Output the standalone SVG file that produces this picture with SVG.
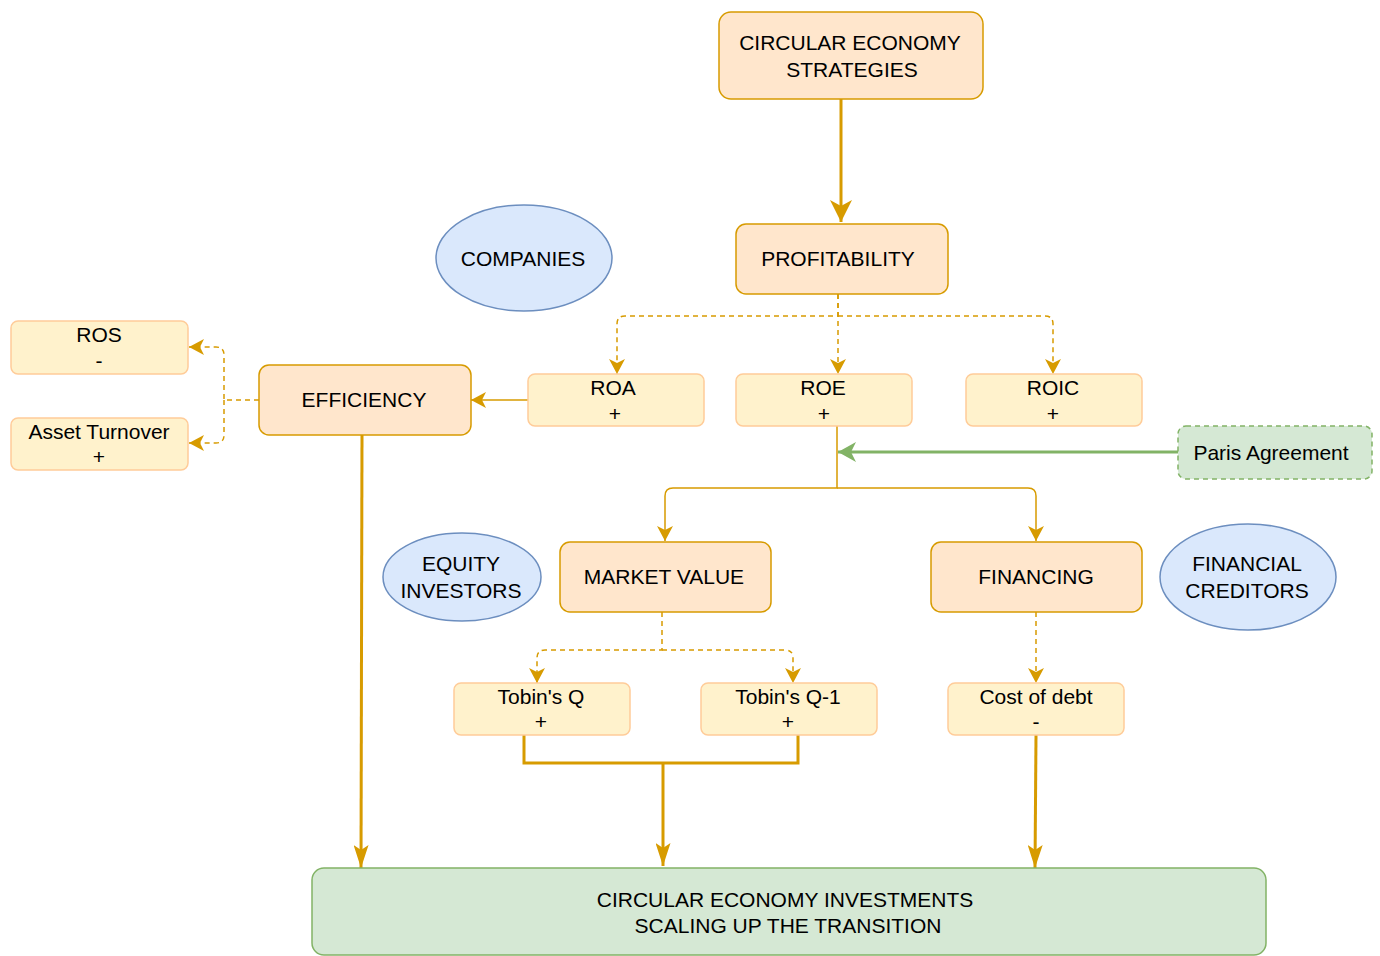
<svg xmlns="http://www.w3.org/2000/svg" width="1380" height="956" viewBox="0 0 1380 956">
<style>
text{font-family:"Liberation Sans",Arial,sans-serif;font-size:21px;fill:#000;text-anchor:middle;dominant-baseline:central}
.main{fill:#ffe6cc;stroke:#d79b00;stroke-width:1.5}
.sub{fill:#fff2cc;stroke:#ffcc99;stroke-width:1.5}
.ell{fill:#dae8fc;stroke:#6c8ebf;stroke-width:1.5}
.grn{fill:#d5e8d4;stroke:#82b366;stroke-width:1.5}
.dash{fill:none;stroke:#d79b00;stroke-width:1.5;stroke-dasharray:5 4}
.thin{fill:none;stroke:#d79b00;stroke-width:1.5}
.thick{fill:none;stroke:#d79b00;stroke-width:3}
</style>
<defs>
<marker id="aS" markerUnits="userSpaceOnUse" viewBox="0 0 15 16" markerWidth="15" markerHeight="16" refX="15" refY="8" orient="auto"><path d="M0,0 L15,8 L0,16 L4,8 Z" fill="#d79b00"/></marker>
<marker id="aL" markerUnits="userSpaceOnUse" viewBox="0 0 22 22" markerWidth="22" markerHeight="22" refX="22" refY="11" orient="auto"><path d="M0,0 L22,11 L0,22 L6,11 Z" fill="#d79b00"/></marker>
<marker id="aB" markerUnits="userSpaceOnUse" viewBox="0 0 23 15" markerWidth="23" markerHeight="15" refX="23" refY="7.5" orient="auto"><path d="M0,0 L23,7.5 L0,15 L5,7.5 Z" fill="#d79b00"/></marker>
<marker id="aG" markerUnits="userSpaceOnUse" viewBox="0 0 18 20" markerWidth="18" markerHeight="20" refX="18" refY="10" orient="auto"><path d="M0,0 L18,10 L0,20 L5,10 Z" fill="#82b366"/></marker>
</defs>

<g id="connectors">
<path class="thick" d="M841,99 V222" marker-end="url(#aL)"/>
<path class="dash" d="M838,294 V316 H625 Q617,316 617,324 V374" marker-end="url(#aS)"/>
<path class="dash" d="M838,294 V374" marker-end="url(#aS)"/>
<path class="dash" d="M838,316 H1045 Q1053,316 1053,324 V374" marker-end="url(#aS)"/>
<path class="thin" d="M528,400 H471" marker-end="url(#aS)"/>
<path class="dash" d="M259,400 H224 V355 Q224,347 216,347 H189" marker-end="url(#aS)"/>
<path class="dash" d="M224,400 V435 Q224,443 216,443 H189" marker-end="url(#aS)"/>
<path class="thick" d="M362,435 L361,868" marker-end="url(#aB)"/>
<path class="thin" d="M837,426 V488 H673 Q665,488 665,496 V541" marker-end="url(#aS)"/>
<path class="thin" d="M837,488 H1028 Q1036,488 1036,496 V541" marker-end="url(#aS)"/>
<path d="M1178,452 H838" fill="none" stroke="#82b366" stroke-width="3" marker-end="url(#aG)"/>
<path class="dash" d="M662,612 V650 H545 Q537,650 537,658 V683" marker-end="url(#aS)"/>
<path class="dash" d="M662,650 H785 Q793,650 793,658 V683" marker-end="url(#aS)"/>
<path class="dash" d="M1036,612 V683" marker-end="url(#aS)"/>
<path class="thick" d="M524,735 V763 H798 V735"/>
<path class="thick" d="M663,763 V866" marker-end="url(#aB)"/>
<path class="thick" d="M1036,735 L1035,868" marker-end="url(#aB)"/>
</g>

<g id="ce-strategies"><rect class="main" x="719" y="12" width="264" height="87" rx="12"/><text x="850" y="42">CIRCULAR ECONOMY</text><text x="852" y="69">STRATEGIES</text></g>
<g id="profitability"><rect class="main" x="736" y="224" width="212" height="70" rx="10"/><text x="838" y="258">PROFITABILITY</text></g>
<g id="companies"><ellipse class="ell" cx="524" cy="258" rx="88" ry="53"/><text x="523" y="258">COMPANIES</text></g>
<g id="roa"><rect class="sub" x="528" y="374" width="176" height="52" rx="7"/><text x="613" y="387">ROA</text><text x="615" y="413">+</text></g>
<g id="roe"><rect class="sub" x="736" y="374" width="176" height="52" rx="7"/><text x="823" y="387">ROE</text><text x="824" y="413">+</text></g>
<g id="roic"><rect class="sub" x="966" y="374" width="176" height="52" rx="7"/><text x="1053" y="387">ROIC</text><text x="1053" y="413">+</text></g>
<g id="efficiency"><rect class="main" x="259" y="365" width="212" height="70" rx="10"/><text x="364" y="399">EFFICIENCY</text></g>
<g id="ros"><rect class="sub" x="11" y="321" width="177" height="53" rx="7"/><text x="99" y="334">ROS</text><text x="99" y="360">-</text></g>
<g id="asset-turnover"><rect class="sub" x="11" y="418" width="177" height="52" rx="7"/><text x="99" y="431">Asset Turnover</text><text x="99" y="456">+</text></g>
<g id="paris"><rect class="grn" x="1178" y="426" width="194" height="53" rx="8" stroke-dasharray="5 4"/><text x="1271" y="452">Paris Agreement</text></g>
<g id="equity-investors"><ellipse class="ell" cx="462" cy="577" rx="79" ry="44"/><text x="461" y="563">EQUITY</text><text x="461" y="590">INVESTORS</text></g>
<g id="market-value"><rect class="main" x="560" y="542" width="211" height="70" rx="10"/><text x="664" y="576">MARKET VALUE</text></g>
<g id="financing"><rect class="main" x="931" y="542" width="211" height="70" rx="10"/><text x="1036" y="576">FINANCING</text></g>
<g id="financial-creditors"><ellipse class="ell" cx="1248" cy="577" rx="88" ry="53"/><text x="1247" y="563">FINANCIAL</text><text x="1247" y="590">CREDITORS</text></g>
<g id="tobins-q"><rect class="sub" x="454" y="683" width="176" height="52" rx="7"/><text x="541" y="696">Tobin's Q</text><text x="541" y="721">+</text></g>
<g id="tobins-q1"><rect class="sub" x="701" y="683" width="176" height="52" rx="7"/><text x="788" y="696">Tobin's Q-1</text><text x="788" y="721">+</text></g>
<g id="cost-of-debt"><rect class="sub" x="948" y="683" width="176" height="52" rx="7"/><text x="1036" y="696">Cost of debt</text><text x="1036" y="721">-</text></g>
<g id="ce-investments"><rect class="grn" x="312" y="868" width="954" height="87" rx="12"/><text x="785" y="899">CIRCULAR ECONOMY INVESTMENTS</text><text x="788" y="925">SCALING UP THE TRANSITION</text></g>
</svg>
